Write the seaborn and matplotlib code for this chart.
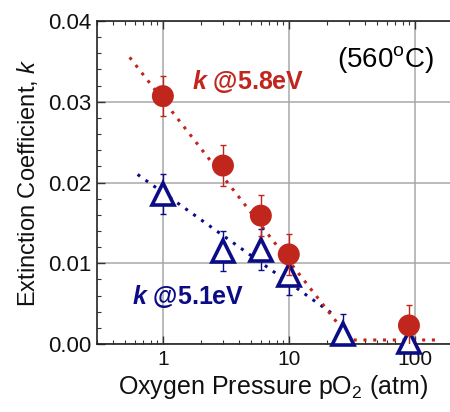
import numpy as np
import seaborn as sns
import matplotlib.pyplot as plt
from matplotlib.ticker import LogLocator, MultipleLocator, NullFormatter, FixedLocator

# Data
pressure_58 = [1, 3, 6, 10, 90]
k_58 = [0.0307, 0.0221, 0.0159, 0.0111, 0.0023]
err_58 = [0.0025, 0.0025, 0.0025, 0.0025, 0.0025]

pressure_51 = [1, 3, 6, 10, 27, 90]
k_51 = [0.0186, 0.0115, 0.0117, 0.0086, 0.0012, 0.0002]
err_51 = [0.0025, 0.0025, 0.0025, 0.0025, 0.0025, 0.0]

# Dotted guide lines
guide_58_x = [0.545, 31, 150]
guide_58_y = [0.0355, 0.0005, 0.0005]
guide_51_x = [0.63, 22]
guide_51_y = [0.021, 0.0038]

red = '#C0261C'
navy = '#0C0C86'

sns.set_style('ticks')
plt.rcParams['font.family'] = ['Liberation Sans', 'DejaVu Sans']
plt.rcParams['mathtext.fontset'] = 'custom'
plt.rcParams['mathtext.rm'] = 'Liberation Sans'
plt.rcParams['mathtext.it'] = 'Liberation Sans:italic'
plt.rcParams['mathtext.bf'] = 'Liberation Sans:bold'
plt.rcParams['mathtext.bfit'] = 'Liberation Sans:italic:bold'
plt.rcParams['xtick.direction'] = 'in'
plt.rcParams['ytick.direction'] = 'in'
plt.rcParams['text.color'] = '#111111'
plt.rcParams['axes.labelcolor'] = '#111111'
plt.rcParams['xtick.labelcolor'] = '#111111'
plt.rcParams['ytick.labelcolor'] = '#111111'

fig = plt.figure(figsize=(4.5, 4.12), dpi=100)
ax = fig.add_axes([0.2156, 0.165, 0.784, 0.784])

ax.grid(True, which='major', color='#a8a8a8', linewidth=1.1)

# guide lines
sns.lineplot(x=guide_51_x, y=guide_51_y, ax=ax, color=navy, linestyle=(0, (1, 2.2)),
             linewidth=2.2, sort=False)
sns.lineplot(x=guide_58_x, y=guide_58_y, ax=ax, color=red, linestyle=(0, (1, 2.2)),
             linewidth=2.2, sort=False)

# 5.1 eV series: open triangles
ax.errorbar(pressure_51, k_51, yerr=err_51, fmt='none', ecolor=navy,
            elinewidth=1.0, capsize=2.5, capthick=1.0, zorder=3)
ax.plot(pressure_51, k_51, linestyle='none', marker='^', markersize=16,
        markerfacecolor='white', markeredgecolor=navy, markeredgewidth=2.6,
        zorder=4, clip_on=False)

# 5.8 eV series: filled circles
ax.errorbar(pressure_58, k_58, yerr=err_58, fmt='none', ecolor=red,
            elinewidth=1.0, capsize=2.5, capthick=1.0, zorder=5)
sns.scatterplot(x=pressure_58, y=k_58, ax=ax, color=red, s=250,
                edgecolor='none', zorder=6, clip_on=False)

ax.set_xscale('log')
ax.set_xlim(0.3, 190)
ax.set_ylim(0, 0.04)
ax.set_xticks([1, 10, 100])
ax.set_xticklabels(['1', '10', '100'])
ax.xaxis.set_minor_locator(LogLocator(base=10, subs=np.arange(2, 10)))
ax.xaxis.set_minor_formatter(NullFormatter())
ax.yaxis.set_major_locator(FixedLocator([0, 0.01, 0.02, 0.03, 0.04]))
ax.yaxis.set_minor_locator(MultipleLocator(0.002))
ax.set_yticklabels(['0.00', '0.01', '0.02', '0.03', '0.04'])

ax.tick_params(which='major', length=6, width=1, top=True,
               right=False, color='#333333', pad=4)
ax.tick_params(which='minor', length=3, width=0.8, top=True, right=False,
               color='#333333')
ax.tick_params(axis='x', labelsize=15)
ax.tick_params(axis='y', labelsize=16)
ax.spines['right'].set_visible(False)
for s in ['left', 'bottom', 'top']:
    ax.spines[s].set_color('#222222')
    ax.spines[s].set_linewidth(1.2)

ax.set_xlabel('Oxygen Pressure pO$_2$ (atm)', fontsize=18, labelpad=3)
ax.set_ylabel('Extinction Coefficient, $\\mathit{k}$', fontsize=17, labelpad=6)

ax.text(0.27, 0.814, '$\\mathbfit{k}$ @5.8eV', transform=ax.transAxes, color=red,
        fontsize=18, fontweight='bold', ha='left', va='center')
ax.text(0.10, 0.146, '$\\mathbfit{k}$ @5.1eV', transform=ax.transAxes, color=navy,
        fontsize=18, fontweight='bold', ha='left', va='center')
ax.text(0.955, 0.882, '(560$^{\\mathrm{o}}$C)', transform=ax.transAxes, color='black',
        fontsize=20, ha='right', va='center')

fig.savefig('out.png', dpi=100)
